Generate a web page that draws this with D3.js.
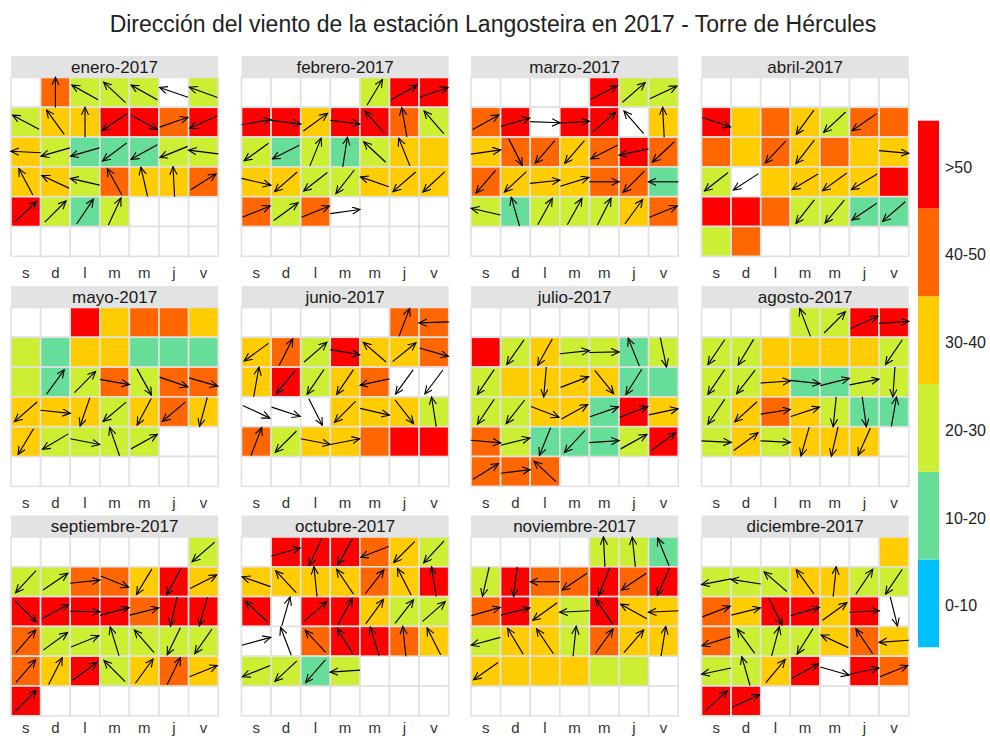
<!DOCTYPE html>
<html><head><meta charset="utf-8">
<script src="https://cdn.jsdelivr.net/npm/d3@7"></script>
<style>body{margin:0;background:#fff;}svg{display:block;font-family:"Liberation Sans",Arial,sans-serif;}</style>
</head><body><svg id="chart" width="990" height="738"></svg>
<script>
const titulo = "Dirección del viento de la estación Langosteira en 2017 - Torre de Hércules";
const meses = ["enero","febrero","marzo","abril","mayo","junio","julio","agosto","septiembre","octubre","noviembre","diciembre"];
const diasSemana = ["s","d","l","m","m","j","v"];
const categorias = ["0-10","10-20","20-30","30-40","40-50",">50"];
const umbrales = [10,20,30,40,50];
const colores = ["#00BFFF","#66DD99","#CCEE33","#FFCC00","#FF6600","#FF0000"];

// velocidad (km/h, valor representativo de la clase), null = sin dato
// dir = rumbo hacia el que apunta la flecha (grados), null = sin dato
const velEne = [45,25,25,25,null,25, 25,35,35,55,55,45,55, 35,25,15,15,15,25,25, 35,35,25,45,35,35,45, 55,25,15,25];
const dirEne = [0,299,313,299,289,290, 298,324,0,236,119,71,246, 273,254,254,233,241,248,277, 332,295,283,331,347,357,58, 47,45,34,25];
const velFeb = [25,55,55, 55,55,35,55,55,45,25, 25,15,25,15,25,35,35, 35,35,25,25,35,35,35, 45,25,45,null];
const dirFeb = [31,61,71, 80,97,54,97,319,350,319, 234,243,22,9,313,338,null, 103,229,232,218,289,229,227, 68,54,68,82];
const velMar = [55,25,25, 45,55,null,55,55,null,35, 35,45,45,35,45,55,45, 45,35,35,35,45,45,15, 25,15,25,25,25,35,45];
const dirMar = [63,49,65, 61,74,92,87,49,319,357, 82,153,221,221,243,258,227, 221,227,84,73,90,225,270, 283,344,29,29,27,36,68];
const velAbr = [55,35,45,35,25,45,45, 45,35,45,35,45,35,35, 25,null,35,35,35,35,55, 55,55,45,25,25,15,15, 25,45];
const dirAbr = [108,null,null,216,227,235,null, null,null,223,218,null,null,95, 232,237,null,239,234,239,null, null,null,null,218,220,236,229, null,null];
const velMay = [55,35,45,45,35, 25,15,35,35,15,15,15, 25,15,25,45,25,45,45, 35,35,35,25,35,45,35, 35,25,25,25,25];
const dirMay = [null,null,null,null,null, null,null,null,null,null,null,null, null,36,45,100,151,109,106, 229,96,199,230,208,230,195, 211,239,101,341,61];
const velJun = [45,45, 35,45,25,55,35,35,45, 35,55,25,35,45,null,null, null,null,null,35,35,35,25, 45,25,35,35,45,55,55];
const dirJun = [21,268, 234,27,49,100,311,51,106, 10,219,214,214,258,216,217, 115,108,153,225,103,142,351, 21,225,101,79,null,null,null];
const velJul = [55,25,35,25,25,15,25, 25,35,35,35,35,15,15, 25,25,35,35,15,55,35, 45,25,15,15,15,25,55, 45,45,45];
const dirJul = [null,215,209,84,89,338,168, 214,null,185,69,141,212,null, 214,218,111,61,71,69,78, 95,76,202,223,86,61,54, 58,83,313];
const velAgo = [25,25,55,55, 25,25,35,35,35,35,25, 25,25,35,15,15,25,25, 25,35,45,35,25,15,15, 25,35,25,35,35,35];
const dirAgo = [339,45,66,86, 214,211,null,null,null,null,214, 214,218,86,96,76,79,184, 214,228,81,72,186,172,10, 93,54,93,196,193,204];
const velSep = [25, 25,25,45,45,35,55,35, 55,55,55,55,45,55,55, 45,25,25,25,25,25,25, 45,35,55,25,35,45,35, 55];
const dirSep = [229, 223,56,84,112,211,209,63, 135,62,91,75,76,193,196, 41,54,68,343,319,206,215, 41,27,54,315,36,26,68, 45];
const velOct = [55,55,55,45,35,25, 35,35,35,35,45,35,55, 55,null,55,55,35,25,25, null,null,45,55,55,45,35, 25,25,15,25];
const dirOct = [74,205,210,249,225,223, 289,317,354,326,38,333,351, 313,16,49,29,36,38,49, 75,339,317,329,343,354,333, 248,227,221,266];
const velNov = [25,25,15, 25,55,45,45,55,45,55, 45,55,35,25,55,35,35, 25,35,35,25,45,35,35, 35,35,35,35,25,25];
const dirNov = [357,354,338, 193,187,270,236,202,236,204, 74,76,234,267,326,299,267, 255,329,326,6,36,41,9, 235,null,null,null,null,null];
const velDic = [35, 25,25,25,35,35,25,25, 45,35,55,55,35,55,null, 45,25,25,25,35,45,35, 25,25,35,55,null,55,45, 55,55];
const dirDic = [null, 259,279,311,324,6,34,214, 69,76,154,74,54,87,166, 253,324,15,212,295,326,266, 258,344,40,62,106,78,68, 47,65];

const velocidades = [velEne,velFeb,velMar,velAbr,velMay,velJun,velJul,velAgo,velSep,velOct,velNov,velDic];
const direcciones = [dirEne,dirFeb,dirMar,dirAbr,dirMay,dirJun,dirJul,dirAgo,dirSep,dirOct,dirNov,dirDic];

const svg = d3.select("#chart");
const color = d3.scaleThreshold().domain(umbrales).range(colores);

const panelX = [11, 241.5, 471, 701.5];
const panelY = [56, 286, 515.5];
const stripH = 21.5, gridW = 207.2, gridH = 178.8;
const x = d3.scaleBand().domain(d3.range(7)).range([0, gridW]);
const y = d3.scaleBand().domain(d3.range(6)).range([0, gridH]);
const L = 30;

const defs = svg.append("defs");
defs.append("marker").attr("id","flecha").attr("markerUnits","userSpaceOnUse")
  .attr("markerWidth",12).attr("markerHeight",12).attr("refX",8).attr("refY",4)
  .attr("orient","auto")
  .append("path").attr("d","M0,0.3 L8,4 L0,7.7").attr("fill","none").attr("stroke","#000").attr("stroke-width",1.1);

svg.append("text").attr("x",493).attr("y",32).attr("text-anchor","middle")
  .attr("font-size",23).attr("fill","#222").text(titulo);

meses.forEach((mes, m) => {
  const fila = Math.floor(m / 4);
  const px = panelX[m % 4], py = panelY[fila];
  const g = svg.append("g").attr("transform", `translate(${px},${py})`);
  g.append("rect").attr("width", gridW).attr("height", stripH).attr("fill", "#E3E3E3");
  g.append("text").attr("x", gridW/2).attr("y", stripH/2 + 6).attr("text-anchor","middle")
    .attr("font-size",17).attr("fill","#1A1A1A").text(mes + "-2017");
  const grid = g.append("g").attr("transform", `translate(0,${stripH})`);
  const first = new Date(2017, m, 1);
  const c0 = (first.getDay() + 1) % 7;
  const off = c0 === 0 ? 7 : c0;
  const vel = velocidades[m], dir = direcciones[m];
  const dias = vel.map((v, i) => {
    const k = off + i;
    return {dia: i + 1, col: k % 7, fila: Math.floor(k / 7), vel: v, dir: dir[i]};
  });
  const celdas = [];
  for (let r = 0; r < 6; r++) for (let c = 0; c < 7; c++) celdas.push({r, c});
  grid.selectAll("rect.vacia").data(celdas).join("rect").attr("class","vacia")
    .attr("x", d => x(d.c)).attr("y", d => y(d.r)).attr("width", x.bandwidth()).attr("height", y.bandwidth())
    .attr("fill", "#fff").attr("stroke", "#E2E2E2").attr("stroke-width", 1.6);
  grid.selectAll("rect.dia").data(dias).join("rect").attr("class","dia")
    .attr("x", d => x(d.col)).attr("y", d => y(d.fila)).attr("width", x.bandwidth()).attr("height", y.bandwidth())
    .attr("fill", d => d.vel == null ? "#fff" : color(d.vel)).attr("stroke", "#E2E2E2").attr("stroke-width", 1.6);
  grid.selectAll("line.fl").data(dias.filter(d => d.dir != null)).join("line").attr("class","fl")
    .attr("x1", d => x(d.col) + x.bandwidth()/2 - L/2 * Math.sin(d.dir * Math.PI/180))
    .attr("y1", d => y(d.fila) + y.bandwidth()/2 + L/2 * Math.cos(d.dir * Math.PI/180))
    .attr("x2", d => x(d.col) + x.bandwidth()/2 + L/2 * Math.sin(d.dir * Math.PI/180))
    .attr("y2", d => y(d.fila) + y.bandwidth()/2 - L/2 * Math.cos(d.dir * Math.PI/180))
    .attr("stroke", "#000").attr("stroke-width", 1.15).attr("marker-end", "url(#flecha)");
  const ax = grid.append("g").attr("transform", `translate(0,${gridH})`)
    .call(d3.axisBottom(x).tickSize(0).tickPadding(fila === 2 ? 7 : 11).tickFormat(i => diasSemana[i]));
  ax.select(".domain").remove();
  ax.selectAll("text").attr("font-size",15).attr("fill","#333").attr("font-family","Liberation Sans, Arial, sans-serif");
});

// leyenda
const ly = d3.scaleBand().domain(d3.range(6).reverse()).range([120.7, 647.3]);
const leg = svg.append("g");
leg.selectAll("rect").data(d3.range(6)).join("rect")
  .attr("x", 918).attr("y", i => ly(i)).attr("width", 21).attr("height", ly.bandwidth())
  .attr("fill", i => colores[i]);
leg.selectAll("text").data(d3.range(6)).join("text")
  .attr("x", 945).attr("y", i => ly(i) + ly.bandwidth()/2 + 8)
  .attr("font-size", 16).attr("fill", "#222").text(i => categorias[i]);
</script></body></html>
